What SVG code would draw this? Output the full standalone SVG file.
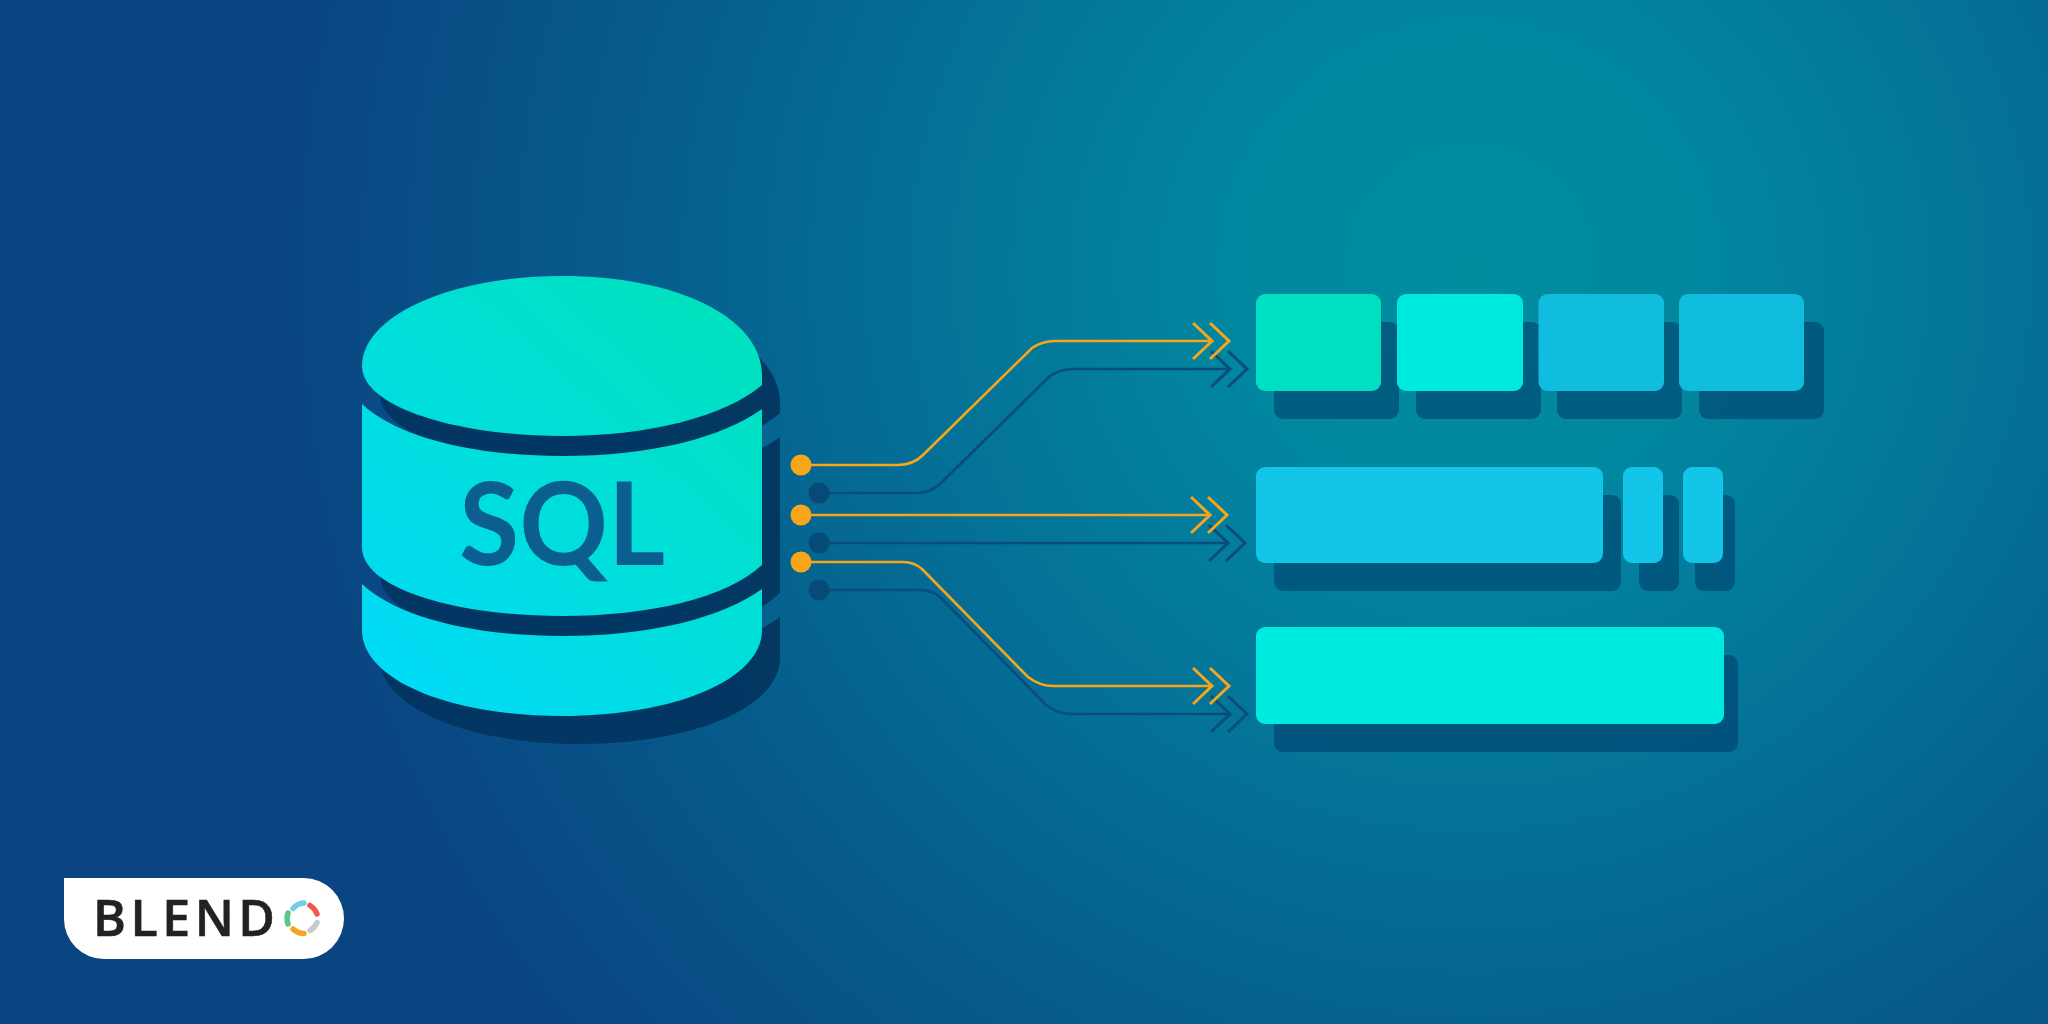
<svg xmlns="http://www.w3.org/2000/svg" width="2048" height="1024" viewBox="0 0 2048 1024">
<style>
.sh{fill:#003a68;fill-opacity:.56}
.r1a{fill:#00dfbf}.r1b{fill:#00ebe0}.r1c{fill:#10bddf}.r2{fill:#12c5e9}.r3{fill:#00ebe0}
.lo{fill:none;stroke:#f9a51a;stroke-width:2.6}
.ld{fill:none;stroke:#0a4c7c;stroke-width:2.6}
.do{fill:#f9a51a}.dd{fill:#064a78}
.seg{fill:url(#cyl)}
.ring{fill:none;stroke-width:5.5;stroke-linecap:round}
</style>
<defs>
<radialGradient id="bg" gradientUnits="userSpaceOnUse" cx="1470" cy="270" r="1200">
<stop offset="0" stop-color="#008e9f"/>
<stop offset=".2" stop-color="#01879f"/>
<stop offset=".45" stop-color="#047298"/>
<stop offset=".7" stop-color="#065c8c"/>
<stop offset="1" stop-color="#0a4481"/>
</radialGradient>
<linearGradient id="cyl" gradientUnits="userSpaceOnUse" x1="362" y1="716" x2="762" y2="276">
<stop offset="0" stop-color="#00dafc"/>
<stop offset="1" stop-color="#00e2b8"/>
</linearGradient>
<marker id="ao" markerUnits="userSpaceOnUse" markerWidth="42" markerHeight="44" viewBox="0 0 42 44" refX="20" refY="22" orient="auto">
<path d="M1 4L20 22L1 40M18 4L37 22L18 40" fill="none" stroke="#f9a51a" stroke-width="3"/>
</marker>
<marker id="ad" markerUnits="userSpaceOnUse" markerWidth="42" markerHeight="44" viewBox="0 0 42 44" refX="20" refY="22" orient="auto">
<path d="M1 4L20 22L1 40M18 4L37 22L18 40" fill="none" stroke="#0a4c7c" stroke-width="3"/>
</marker>
<path id="lid" d="M362 366C362 316 450 276 562 276C674 276 762 316 762 376V385C726 416 650 436 562 436C460 436 362 408 362 366Z"/>
<path id="band" d="M362 404C396 436 470 456 562 456C650 456 722 438 762 409V565C726 598 650 616 562 616C460 616 362 590 362 547Z"/>
<path id="base" d="M362 584C396 616 470 636 562 636C650 636 722 618 762 589V630C762 680 674 716 562 716C450 716 362 680 362 630Z"/>
</defs>
<rect id="background" width="2048" height="1024" fill="url(#bg)"/>
<g id="database">
<g opacity=".9" fill="#03345f" transform="translate(18 28)">
<use href="#lid"/><use href="#band"/><use href="#base"/>
</g>
<use href="#base" class="seg"/>
<use href="#band" class="seg"/>
<use href="#lid" class="seg"/>
<text x="562" y="565" text-anchor="middle" font-family="Lato, 'Open Sans', sans-serif" font-size="114" font-weight="700" fill="#0a5f90" textLength="206" lengthAdjust="spacingAndGlyphs">SQL</text>
</g>
<g id="connectors">
<path class="ld" marker-end="url(#ad)" d="M819 493H916C926 493 935 489 941 483L1050 376C1056 372 1064 369 1073 369H1230"/>
<path class="ld" marker-end="url(#ad)" d="M819 543H1228"/>
<path class="ld" marker-end="url(#ad)" d="M819 590H921C930 590 936 593 941 598L1046 705C1054 711 1062 714 1071 714H1230"/>
<path class="lo" marker-end="url(#ao)" d="M801 465H898C908 465 917 461 923 455L1032 348C1038 344 1046 341 1055 341H1212"/>
<path class="lo" marker-end="url(#ao)" d="M801 515H1210"/>
<path class="lo" marker-end="url(#ao)" d="M801 562H903C912 562 918 565 923 570L1028 677C1036 683 1044 686 1053 686H1212"/>
<circle class="dd" cx="819" cy="493" r="10.500"/><circle class="dd" cx="819" cy="543" r="10.500"/><circle class="dd" cx="819" cy="590" r="10.500"/>
<circle class="do" cx="801" cy="465" r="10.500"/><circle class="do" cx="801" cy="515" r="10.500"/><circle class="do" cx="801" cy="562" r="10.500"/>
</g>
<g id="row1">
<rect class="sh" x="1274" y="322" width="125" height="97" rx="9"/>
<rect class="sh" x="1416" y="322" width="125" height="97" rx="9"/>
<rect class="sh" x="1557" y="322" width="125" height="97" rx="9"/>
<rect class="sh" x="1699" y="322" width="125" height="97" rx="9"/>
<rect id="box1" class="r1a" x="1256" y="294" width="125" height="97" rx="9"/>
<rect id="box2" class="r1b" x="1397" y="294" width="126" height="97" rx="9"/>
<rect id="box3" class="r1c" x="1538.500" y="294" width="125.500" height="97" rx="9"/>
<rect id="box4" class="r1c" x="1679" y="294" width="125" height="97" rx="9"/>
</g>
<g id="row2">
<rect class="sh" x="1274" y="495" width="347" height="96" rx="9"/>
<rect class="sh" x="1639" y="495" width="40" height="96" rx="9"/>
<rect class="sh" x="1695" y="495" width="40" height="96" rx="9"/>
<rect id="box5" class="r2" x="1256" y="467" width="347" height="96" rx="9"/>
<rect id="box6" class="r2" x="1623" y="467" width="40" height="96" rx="9"/>
<rect id="box7" class="r2" x="1683" y="467" width="40" height="96" rx="9"/>
</g>
<g id="row3">
<rect class="sh" x="1274" y="655" width="464" height="97" rx="9"/>
<rect id="box8" class="r3" x="1256" y="627" width="468" height="97" rx="9"/>
</g>
<g id="logo">
<path d="M64 878H303.500A40.500 40.500 0 0 1 303.500 959H104A40 40 0 0 1 64 919Z" fill="#fff"/>
<text x="93" y="936" font-family="'Open Sans', 'Noto Sans', sans-serif" font-size="50" font-weight="600" fill="#222" stroke="#222" stroke-width=".6" textLength="182" lengthAdjust="spacing">BLEND</text>
<path class="ring" stroke="#6fd0e3" d="M293 908.500A16 16 0 0 1 304 903"/>
<path class="ring" stroke="#f2564f" d="M310 905.500A16 16 0 0 1 317 914"/>
<path class="ring" stroke="#c9c9c9" d="M317 922.500A16 16 0 0 1 310 930.500"/>
<path class="ring" stroke="#f5a623" d="M293 929A16 16 0 0 0 304 933.500"/>
<path class="ring" stroke="#5fc38b" d="M288 913A16 16 0 0 0 288 924"/>
</g>
</svg>
